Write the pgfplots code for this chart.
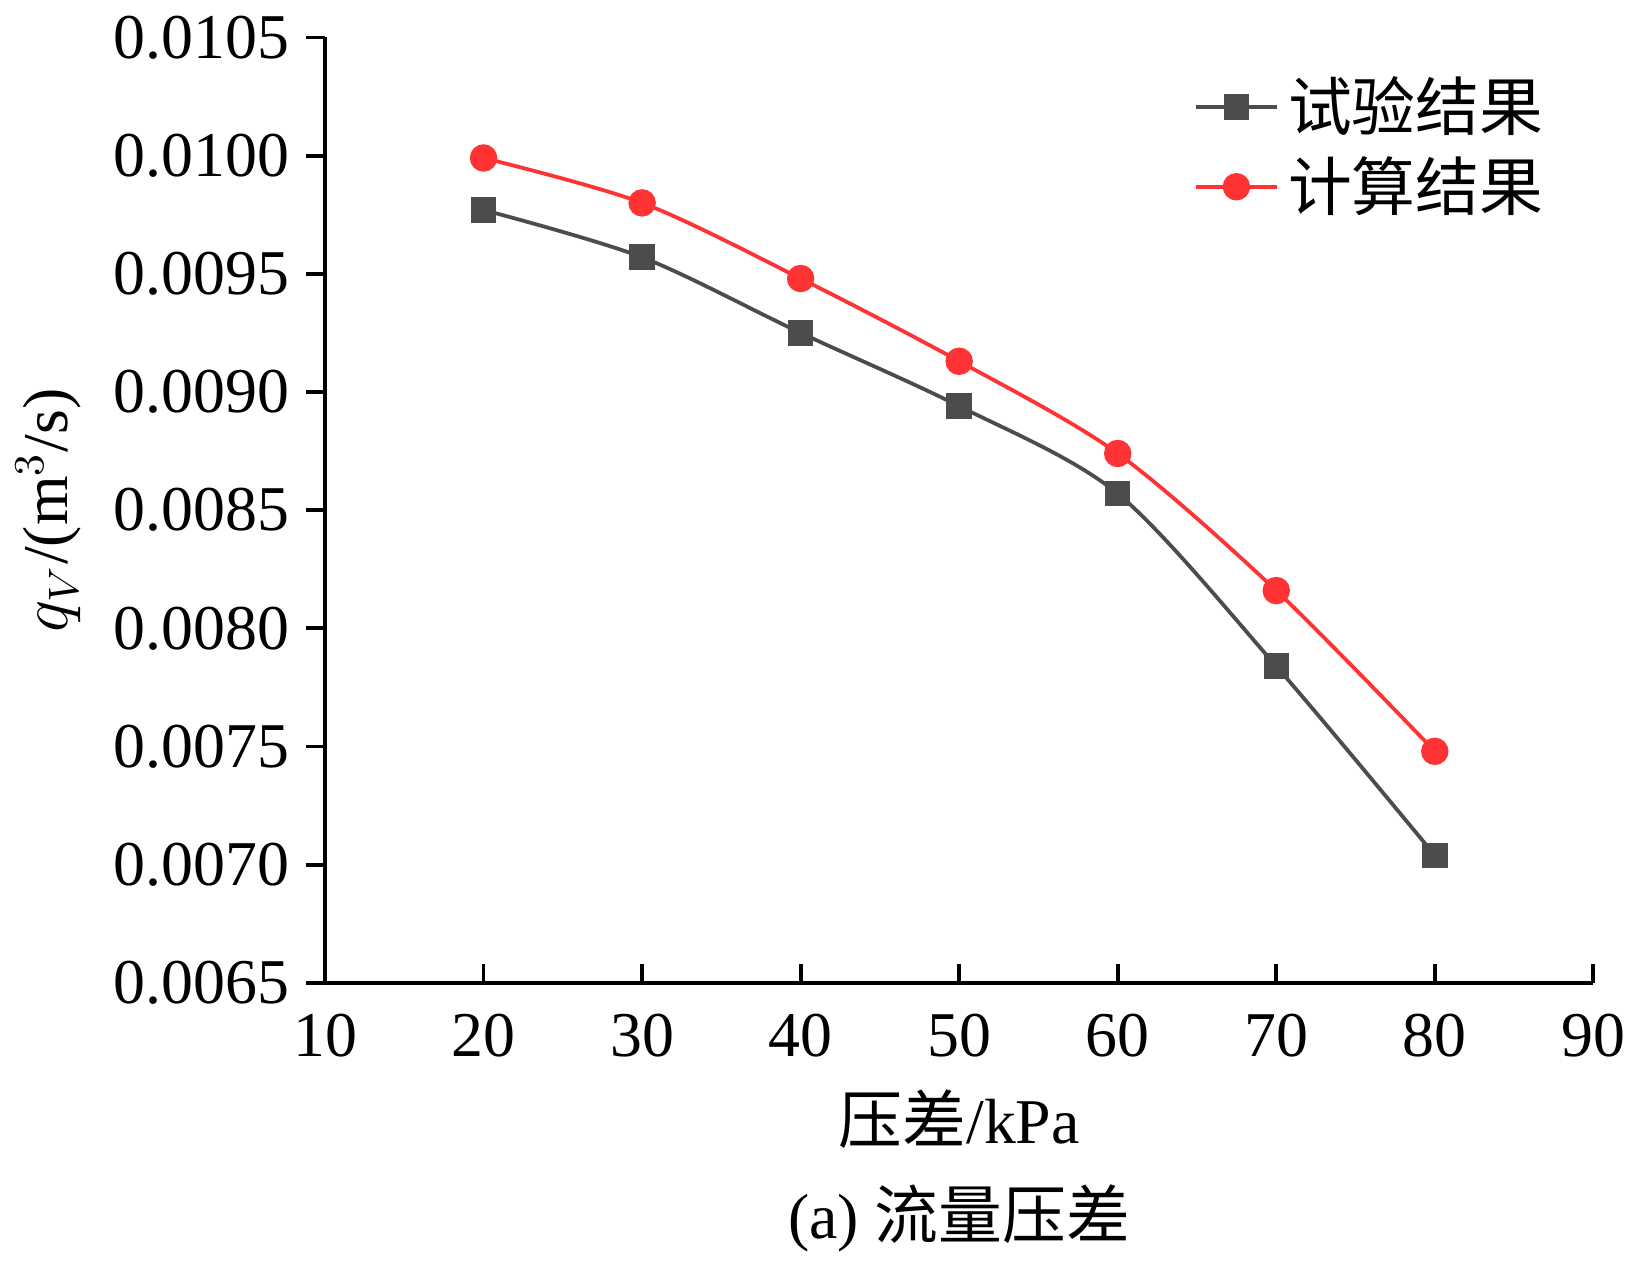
\documentclass[border=0pt]{standalone}
\usepackage{pgfplots}
\pgfplotsset{compat=1.18}
\usepackage{fontspec}
\setmainfont{Liberation Serif}
\newfontfamily\cjk{Noto Sans CJK SC}
\begin{document}
\begin{tikzpicture}
\begin{axis}[
  width=9.43cm, height=7.03cm, scale only axis,
  xmin=10, xmax=90, ymin=0.0065, ymax=0.0105,
  xtick={10,20,...,90}, ytick={0.0065,0.0070,...,0.0105},
  axis lines=left, axis line style={-, line width=0.8pt},
  tick style={line width=0.8pt, black},
  xtick align=inside, ytick align=outside,
  major tick length=4pt,
  /pgf/number format/assume math mode=true,
  yticklabel style={/pgf/number format/.cd, fixed, fixed zerofill, precision=4},
  xticklabel style={yshift=-3pt},
  scaled y ticks=false,
  ticklabel style={font=\fontsize{13.5}{15}\selectfont},
  label style={font=\fontsize{13.5}{15}\selectfont},
  xlabel={{\cjk 压差}/kPa},
  ylabel={$q_V$/(m$^3$/s)},
  legend style={at={(0.98,0.98)}, anchor=north east, draw=none, fill=none, font=\fontsize{13.5}{15}\selectfont\cjk},
  legend cell align=left,
]
\addplot[color=black!70, line width=0.8pt, smooth, mark=square*, mark size=2.3pt] coordinates {
(20,0.00977)(30,0.00957)(40,0.00925)(50,0.00894)(60,0.00857)(70,0.00784)(80,0.00704)};
\addlegendentry{试验结果}
\addplot[color=red!80!white, line width=0.8pt, smooth, mark=*, mark size=2.5pt, mark options={fill=red!80!white}] coordinates {
(20,0.00999)(30,0.00980)(40,0.00948)(50,0.00913)(60,0.00874)(70,0.00816)(80,0.00748)};
\addlegendentry{计算结果}
\end{axis}
\node[font=\fontsize{13.5}{15}\selectfont] at (4.715,-1.75) {(a) {\cjk 流量压差}};
\end{tikzpicture}
\end{document}
